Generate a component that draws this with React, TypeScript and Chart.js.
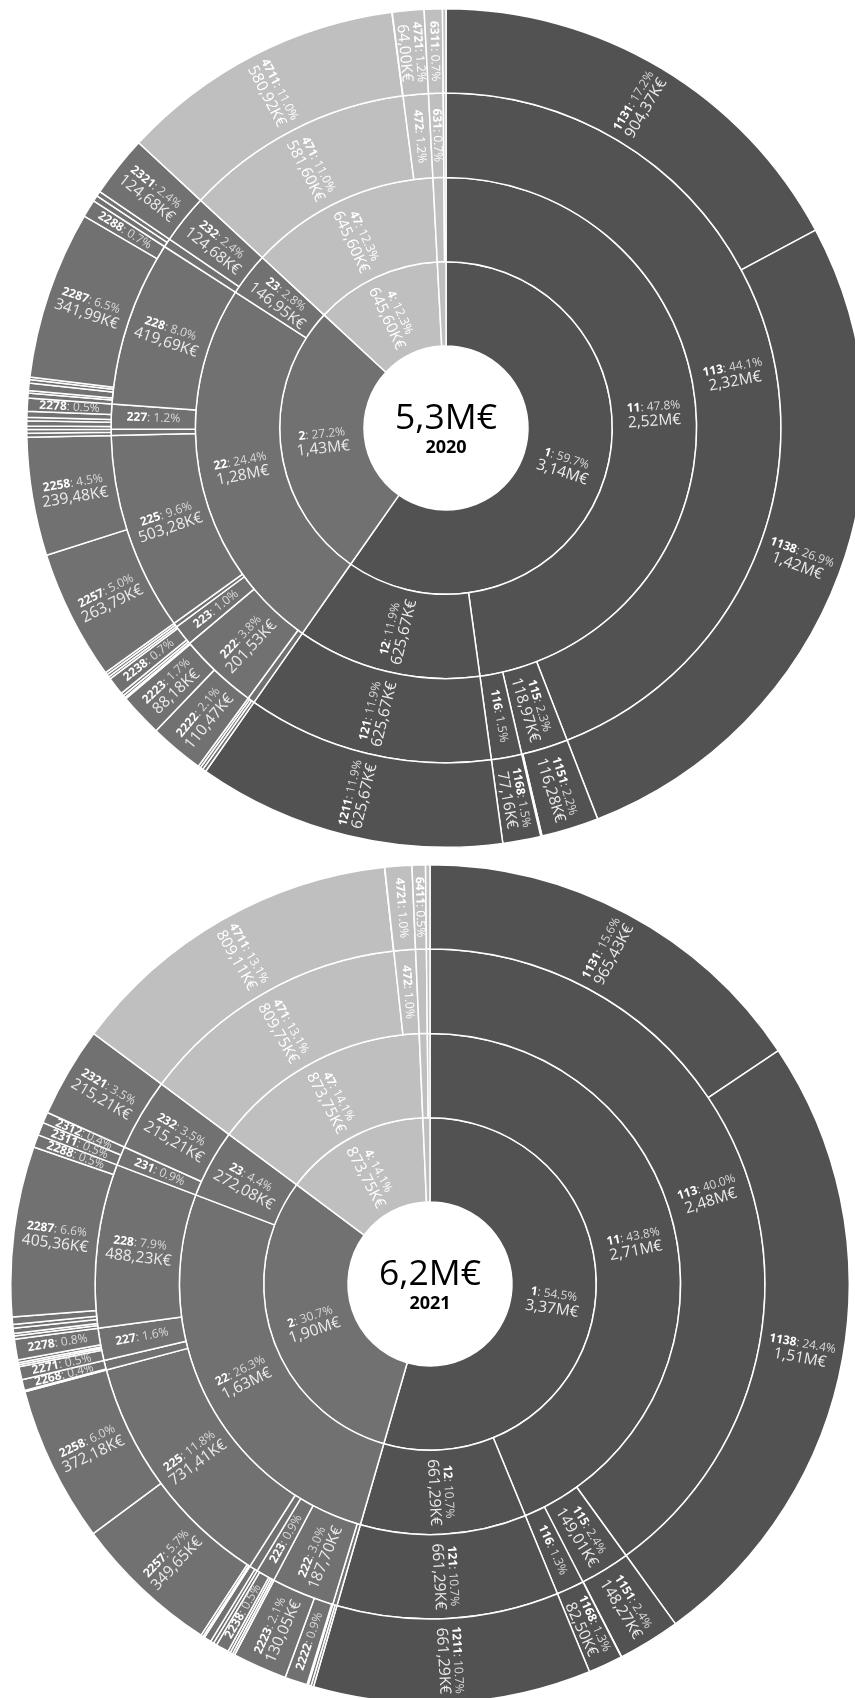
import React, { useEffect, useRef } from "react";
import { Chart, registerables } from "chart.js";

Chart.register(...registerables);

// ---- Data (K€), leaves at level 4, in clockwise order from the top ----
const leafCodes2020 = [
  "1131", "1138", "1151", "1158", "1168", "1211",
  "2211", "2212", "2214", "2222", "2223", "2224", "2231", "2233", "2238", "2239",
  "2241", "2243", "2257", "2258", "2261", "2262", "2272", "2273", "2274", "2276", "2278",
  "2281", "2282", "2284", "2285", "2286", "2287", "2288", "2311", "2312", "2321",
  "4711", "4719", "4721", "6311", "6411",
];
const leafValues2020 = [
  904.37, 1418.0, 116.28, 2.69, 77.16, 625.67,
  7, 5.8, 5, 110.47, 88.18, 2.88, 5, 6, 36.8, 4.8,
  5.5, 5, 263.794, 239.484, 8, 7.8, 6.8, 10.5, 7, 12.2, 26.6,
  10, 5, 15, 7, 5, 341.99, 35.7, 12, 10.27, 124.68,
  580.92, 0.68, 64.0, 36.8, 7,
];

const leafCodes2021 = [
  "1131", "1138", "1151", "1158", "1168", "1211",
  "2211", "2212", "2221", "2222", "2223", "2224", "2231", "2232", "2236", "2238", "2239",
  "2241", "2243", "2251", "2254", "2257", "2258", "2261", "2263", "2268",
  "2271", "2272", "2274", "2276", "2278",
  "2281", "2282", "2283", "2284", "2285", "2287", "2288", "2311", "2312", "2321",
  "4711", "4719", "4721", "6411", "6511",
];
const leafValues2021 = [
  965.43, 1511.5, 148.27, 0.74, 82.5, 661.29,
  6, 7, 3, 54, 130.05, 0.65, 5, 6, 6, 31, 8,
  8, 17.16, 4, 5.58, 349.65, 372.18, 1.5, 1.5, 26,
  31, 5, 4.5, 7, 49,
  8, 6, 12, 9, 17.5, 405.36, 30.37, 31, 25.87, 215.21,
  809.11, 0.64, 64.0, 32, 10.44,
];

const years = ["2020", "2021"];

const groupColors: Record<string, string> = {
  "1": "#525252",
  "2": "#717171",
  "4": "#bfbfbf",
  "6": "#bfbfbf",
};

const FONT = "'Open Sans', 'DejaVu Sans', sans-serif";

type Node = { code: string; value: number };

function buildRings(codes: string[], values: number[]): Node[][] {
  const rings: Node[][] = [];
  for (let level = 4; level >= 1; level--) {
    const ring: Node[] = [];
    codes.forEach((c, i) => {
      const key = c.slice(0, level);
      const last = ring[ring.length - 1];
      if (last && last.code === key) last.value += values[i];
      else ring.push({ code: key, value: values[i] });
    });
    rings.push(ring);
  }
  return rings;
}

function fmtValue(v: number): string {
  if (v >= 1000) return (v / 1000).toFixed(2).replace(".", ",") + "M€";
  return v.toFixed(2).replace(".", ",") + "K€";
}

function makePlugin(rings: Node[][], total: number, year: string) {
  return {
    id: "sunburstLabels",
    afterDatasetsDraw(chart: any) {
      const ctx: CanvasRenderingContext2D = chart.ctx;
      let cx = 0;
      let cy = 0;
      rings.forEach((ring, d) => {
        const meta = chart.getDatasetMeta(d);
        meta.data.forEach((arc: any, i: number) => {
          const node = ring[i];
          if (!node) return;
          const p = arc.getProps(["x", "y", "startAngle", "endAngle", "innerRadius", "outerRadius"], true);
          cx = p.x;
          cy = p.y;
          const ang = p.endAngle - p.startAngle;
          const mid = (p.startAngle + p.endAngle) / 2;
          const rMid = (p.innerRadius + p.outerRadius) / 2;
          const ringW = p.outerRadius - p.innerRadius;
          const pct = ((node.value / total) * 100).toFixed(1) + "%";
          const rest = ": " + pct;
          const valueTxt = fmtValue(node.value);
          const light = node.code[0] === "4" || node.code[0] === "6";

          ctx.save();
          ctx.font = `bold 12px ${FONT}`;
          const wc = ctx.measureText(node.code).width;
          ctx.font = `12px ${FONT}`;
          const wr = ctx.measureText(rest).width;
          ctx.font = `15.5px ${FONT}`;
          const wv = ctx.measureText(valueTxt).width;
          const w1 = wc + wr;
          const w2 = Math.max(w1, wv);
          const two = (rMid - w2 / 2) * ang >= 26.15 && w2 <= ringW - 4;
          const one = (rMid - w1 / 2) * ang >= 8.9 && w1 <= ringW - 2;
          if (!two && !one) {
            ctx.restore();
            return;
          }
          const px = p.x + Math.cos(mid) * rMid;
          const py = p.y + Math.sin(mid) * rMid;
          let rot = mid;
          if (Math.cos(mid) < 0) rot += Math.PI;
          ctx.translate(px, py);
          ctx.rotate(rot);
          ctx.textBaseline = "middle";
          ctx.textAlign = "left";
          const y1 = two ? -7 : 0;
          const x0 = -w1 / 2;
          ctx.font = `bold 12px ${FONT}`;
          ctx.fillStyle = "#ffffff";
          ctx.fillText(node.code, x0, y1);
          ctx.font = `12px ${FONT}`;
          ctx.fillStyle = light ? "#ffffff" : "#dadada";
          ctx.fillText(rest, x0 + wc, y1);
          if (two) {
            ctx.font = `15.5px ${FONT}`;
            ctx.textAlign = "center";
            ctx.fillStyle = light ? "#ffffff" : "#ececec";
            ctx.fillText(valueTxt, 0, 7.4);
          }
          ctx.restore();
        });
      });
      // center
      ctx.save();
      ctx.fillStyle = "#000000";
      ctx.textAlign = "center";
      ctx.textBaseline = "alphabetic";
      ctx.font = `35.5px ${FONT}`;
      ctx.fillText((total / 1000).toFixed(1).replace(".", ",") + "M€", cx, cy + 1);
      ctx.font = `bold 18px ${FONT}`;
      ctx.fillText(year, cx, cy + 25);
      ctx.restore();
    },
  };
}

function Sunburst(props: { codes: string[]; values: number[]; year: string; left: number; top: number }) {
  const ref = useRef<HTMLCanvasElement | null>(null);
  useEffect(() => {
    const canvas = ref.current;
    if (!canvas) return;
    const rings = buildRings(props.codes, props.values);
    const total = props.values.reduce((a, b) => a + b, 0);
    const chart = new Chart(canvas, {
      type: "doughnut",
      data: {
        datasets: rings.map((ring) => ({
          data: ring.map((n) => n.value),
          backgroundColor: ring.map((n) => groupColors[n.code[0]]),
          borderColor: "#ffffff",
          borderWidth: 1.5,
          hoverBorderWidth: 1.5,
        })),
      },
      options: {
        responsive: false,
        animation: false,
        cutout: 82,
        events: [],
        layout: { padding: 0 },
        plugins: { legend: { display: false }, tooltip: { enabled: false } },
      },
      plugins: [makePlugin(rings, total, props.year)],
    } as any);
    return () => chart.destroy();
  }, []);
  return (
    <canvas
      ref={ref}
      width={840}
      height={840}
      style={{ position: "absolute", left: props.left, top: props.top, width: 840, height: 840 }}
    />
  );
}

export default function App() {
  return (
    <div
      style={{
        position: "fixed",
        left: 0,
        top: 0,
        width: 855,
        height: 1698,
        overflow: "hidden",
        background: "#ffffff",
      }}
    >
      <Sunburst codes={leafCodes2020} values={leafValues2020} year={years[0]} left={26} top={8} />
      <Sunburst codes={leafCodes2021} values={leafValues2021} year={years[1]} left={10} top={864} />
    </div>
  );
}
